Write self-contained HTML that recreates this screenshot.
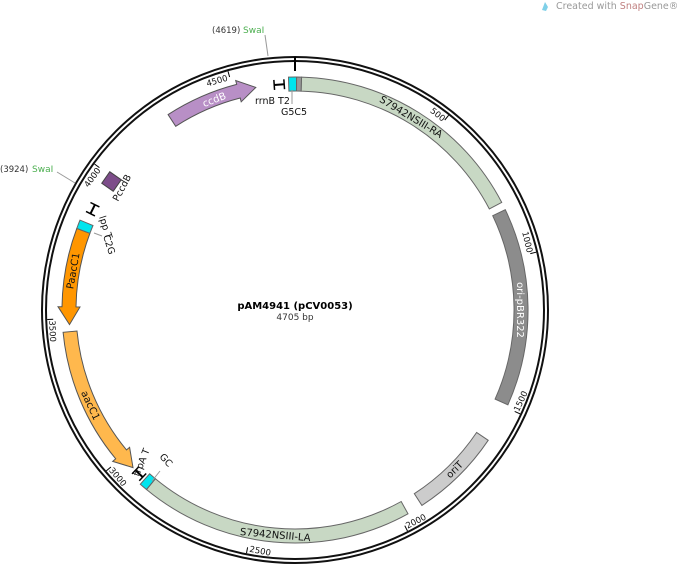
<!DOCTYPE html>
<html><head><meta charset="utf-8"><style>
html,body{margin:0;padding:0;background:#fff;width:678px;height:567px;overflow:hidden}
svg{font-family:"DejaVu Sans","Liberation Sans",sans-serif}
</style></head><body>
<svg id="s" width="678" height="567" viewBox="0 0 678 567" xmlns="http://www.w3.org/2000/svg">
<g id="shapes"></g>
<circle cx="295" cy="310" r="253" fill="none" stroke="#111" stroke-width="2"/>
<circle cx="295" cy="310" r="249" fill="none" stroke="#111" stroke-width="2"/>
<line x1="295" y1="57" x2="295" y2="71" stroke="#000" stroke-width="2"/>
<line x1="265" y1="35" x2="268" y2="56" stroke="#999" stroke-width="1"/>
<line x1="57" y1="172" x2="75" y2="183" stroke="#999" stroke-width="1"/>
<text x="212" y="33" font-size="8.5" fill="#333">(4619)</text>
<text x="243" y="33" font-size="9" fill="#4caf50">SwaI</text>
<text x="0" y="172" font-size="8.5" fill="#333">(3924)</text>
<text x="32" y="172" font-size="9" fill="#4caf50">SwaI</text>
<text x="556" y="9" font-size="9.5" fill="#999">Created with <tspan fill="#c08080">Snap</tspan>Gene®</text>
<path d="M542 10 l3 -8 l3 5 l-2 4z" fill="#7fd0e8"/>
<text x="295" y="309" font-size="10" font-weight="bold" text-anchor="middle">pAM4941 (pCV0053)</text>
<text x="295" y="320" font-size="9" text-anchor="middle" fill="#333">4705 bp</text>
<g font-size="8.5" fill="#111">
<g text-anchor="end">
<text transform="rotate(38.3 295 310)" x="294" y="71">500</text>
<text transform="rotate(76.5 295 310)" x="294" y="71">1000</text>
<text transform="rotate(-54 295 310)" x="294" y="71">4000</text>
<text transform="rotate(-16 295 310)" x="294" y="71">4500</text>
</g>
<g text-anchor="start">
<text transform="rotate(-65.2 295 310)" x="296" y="556">1500</text>
<text transform="rotate(-27 295 310)" x="296" y="556">2000</text>
<text transform="rotate(11 295 310)" x="296" y="556">2500</text>
<text transform="rotate(49.5 295 310)" x="296" y="556">3000</text>
<text transform="rotate(87.8 295 310)" x="296" y="556">3500</text>
</g>
</g>
<g font-size="10" text-anchor="middle">
<text transform="rotate(31 295 310)" x="295" y="88" fill="#111">S7942NSIII-RA</text>
<text transform="rotate(90 295 310)" x="295" y="88" fill="#fff">ori-pBR322</text>
<text transform="rotate(-45 295 310)" x="295" y="539" fill="#111">oriT</text>
<text transform="rotate(5 295 310)" x="295" y="539" fill="#111">S7942NSIII-LA</text>
<text transform="rotate(65 295 310)" x="295" y="539" fill="#111">aacC1</text>
<text transform="rotate(-80 295 310)" x="295" y="88" fill="#111">PaacC1</text>
<text transform="rotate(-21 295 310)" x="295" y="88" fill="#fff">ccdB</text>
</g>
<g font-size="9.5" fill="#111">
<text x="255" y="104">rrnB T2</text>
<text x="281" y="115">G5C5</text>
<text transform="translate(118,202) rotate(-62)">PccdB</text>
<text transform="translate(99,217) rotate(72)">lpp T</text>
<text transform="translate(103,236) rotate(72)">C2G</text>
<text transform="translate(139,477) rotate(-68)">trpA T</text>
<text transform="translate(159,457) rotate(48)">GC</text>
</g>
<line x1="94" y1="233" x2="102" y2="236" stroke="#999"/>
<line x1="292" y1="90" x2="292" y2="104" stroke="#999"/>
<line x1="152" y1="481" x2="160" y2="471" stroke="#999"/>
</svg>
<script>
var cx=295,cy=310,R=226,W=14,N=4705;
function P(a,r){a=a*Math.PI/180;return [(cx+r*Math.sin(a)).toFixed(1),(cy-r*Math.cos(a)).toFixed(1)];}
function arcpath(a1,a2,r1,r2){var l=Math.abs(a2-a1)>180?1:0;var p1=P(a1,r2),p2=P(a2,r2),p3=P(a2,r1),p4=P(a1,r1);
return "M"+p1+" A"+r2+" "+r2+" 0 "+l+" 1 "+p2+" L"+p3+" A"+r1+" "+r1+" 0 "+l+" 0 "+p4+"Z";}
var g=document.getElementById("shapes"),h="";
function box(a1,a2,fill){h+='<path d="'+arcpath(a1,a2,R-W/2,R+W/2)+'" fill="'+fill+'" stroke="#666" stroke-width="1"/>';}
function arrow(a1,a2,fill,dir){
 var hl=4.5*dir,ab=a2-hl,r1=R-W/2,r2=R+W/2,d;
 if(dir>0){d="M"+P(a1,r2)+" A"+r2+" "+r2+" 0 0 1 "+P(ab,r2)+" L"+P(ab,r2+4)+" L"+P(a2,R)+" L"+P(ab,r1-4)+" L"+P(ab,r1)+" A"+r1+" "+r1+" 0 0 0 "+P(a1,r1)+"Z";}
 else{d="M"+P(a1,r1)+" A"+r1+" "+r1+" 0 0 0 "+P(ab,r1)+" L"+P(ab,r1-4)+" L"+P(a2,R)+" L"+P(ab,r2+4)+" L"+P(ab,r2)+" A"+r2+" "+r2+" 0 0 1 "+P(a1,r2)+"Z";}
 h+='<path d="'+d+'" fill="'+fill+'" stroke="#555" stroke-width="1"/>';}
function term(a){var p=P(a,R);h+='<g transform="translate('+p[0]+','+p[1]+') rotate('+a+')"><line x1="-5" y1="0" x2="5" y2="0" stroke="#000" stroke-width="2"/><line x1="-5" y1="-5" x2="-5" y2="5" stroke="#000" stroke-width="1.5"/><line x1="5" y1="-5" x2="5" y2="5" stroke="#000" stroke-width="1.5"/></g>';}
box(1.6,62.5,"#c8d8c4");
box(64.5,114,"#8c8c8c");
box(124,147,"#cccccc");
box(151,219.6,"#c8d8c4");
box(219.6,221.6,"#00e5ee");
box(-1.6,0.4,"#00e5ee");box(0.4,1.6,"#999");
arrow(264.5,225.8,"#ffb84d",-1);
arrow(290.5,266.3,"#ff9600",-1);
box(290.5,292.7,"#00e5ee");
arrow(327,350,"#b88fc6",1);
var pc=P(305,224);h+='<rect x="-7" y="-7" width="14" height="14" transform="translate('+pc[0]+','+pc[1]+') rotate(35)" fill="#7d4d8a" stroke="#444"/>';
term(356);term(296.5);term(223.6);
[500,1000,1500,2000,2500,3000,3500,4000,4500].forEach(function(b){var a=b/N*360,p1=P(a,248),p2=P(a,242);h+='<line x1="'+p1[0]+'" y1="'+p1[1]+'" x2="'+p2[0]+'" y2="'+p2[1]+'" stroke="#000" stroke-width="1"/>';});
g.innerHTML=h;
</script>
</body></html>
